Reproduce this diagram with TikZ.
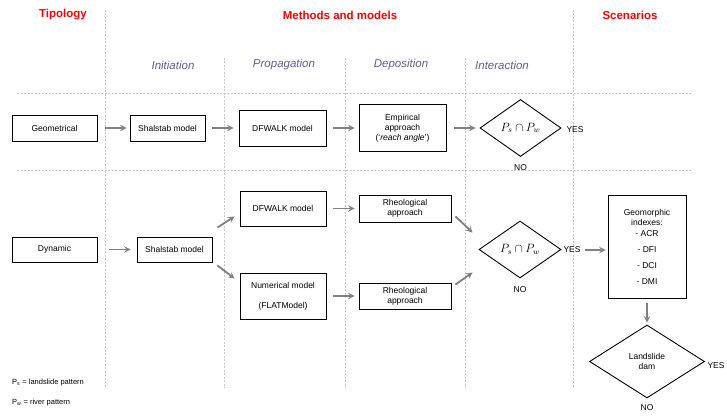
\documentclass[tikz,border=0pt]{standalone}
\usepackage{fontspec}
\setmainfont{Liberation Sans}
\usepackage{tikz}
\usetikzlibrary{shapes.geometric, arrows, positioning, calc}
\definecolor{rojotit}{HTML}{FF0000}
\definecolor{pizarra}{HTML}{5F5F96}
\definecolor{flecha}{HTML}{808080}
\definecolor{rejilla}{HTML}{C8C8C8}
\tikzset{
  caja/.style={rectangle, draw=black, line width=0.9pt, fill=white, text centered,
               font=\fontsize{8.5}{10}\selectfont, align=center, inner sep=2pt},
  rombo/.style={diamond, draw=black, line width=0.9pt, fill=white, text centered,
                font=\fontsize{8.5}{10}\selectfont, align=center, inner sep=0pt},
  titulo/.style={font=\fontsize{11.5}{13}\selectfont\bfseries, text=rojotit},
  fase/.style={font=\fontsize{11.5}{13}\selectfont\itshape, text=pizarra},
  etiq/.style={font=\fontsize{8.5}{10}\selectfont, inner sep=1pt},
  nota/.style={font=\fontsize{7.5}{9}\selectfont, anchor=west, inner sep=0pt},
  guia/.style={draw=rejilla, line width=0.5pt, dash pattern=on 2pt off 1.5pt},
  arrow/.style={line width=1.8pt,->,>=stealth,color=flecha}
}
\begin{document}
\begin{tikzpicture}[x=1pt, y=-1pt]
  \path[use as bounding box, fill=white] (0,0) rectangle (727,419);
  \draw [guia] (17,93) -- (692,93);
  \draw [guia] (17,170) -- (692,170);
  \draw [guia] (105,10) -- (105,388);
  \draw [guia] (573,10) -- (573,388);
  \foreach \xg in {224,345,465}
    \draw [guia] (\xg,58) -- (\xg,388);

  \node (tip) [titulo] at (63,15) {Tipology};
  \node (mym) [titulo] at (340,15) {Methods and models};
  \node (esc) [titulo] at (630,15) {Scenarios};
  \node (ini) [fase] at (173,65) {Initiation};
  \node (pro) [fase] at (284,65) {Propagation};
  \node (dep) [fase] at (401,65) {Deposition};
  \node (int) [fase] at (502,65) {Interaction};

  \node (geo) [caja, minimum width=85pt, minimum height=26pt] at (54.5,128) {Geometrical};
  \node (sh1) [caja, minimum width=75pt, minimum height=26pt] at (167.5,128) {Shalstab model};
  \node (dfw1) [caja, minimum width=87pt, minimum height=36pt] at (282.5,128) {DFWALK model};
  \node (emp) [caja, minimum width=87pt, minimum height=47pt] at (402.5,128) {Empirical\\approach\\(‘\textit{reach angle}’)};
  \node (d1) [rombo, minimum width=81pt, minimum height=57pt] at (520.5,128) {\fontsize{11.5}{13}\selectfont$P_s \cap P_w$};
  \node (yes1) [etiq] at (575,130) {YES};
  \node (no1) [etiq] at (520.5,168) {NO};

  \node (dyn) [caja, minimum width=85pt, minimum height=25pt] at (54.5,249.5) {Dynamic};
  \node (sh2) [caja, minimum width=75pt, minimum height=25pt] at (174.5,249.5) {Shalstab model};
  \node (dfw2) [caja, minimum width=86pt, minimum height=35pt] at (283,208.5) {DFWALK model};
  \node (num) [caja, minimum width=86pt, minimum height=46pt] at (283,296) {Numerical model\\[10pt](FLATModel)};
  \node (rh1) [caja, minimum width=92pt, minimum height=27pt] at (405,208.5) {Rheological\\approach};
  \node (rh2) [caja, minimum width=92pt, minimum height=26pt] at (405,296) {Rheological\\approach};
  \node (d2) [rombo, minimum width=82pt, minimum height=57pt] at (520,249.5) {\fontsize{11.5}{13}\selectfont$P_s \cap P_w$};
  \node (yes2) [etiq] at (572,250) {YES};
  \node (no2) [etiq] at (520,290) {NO};
  \node (geom) [caja, minimum width=78pt, minimum height=103pt] at (647,246.5) {Geomorphic\\indexes:\\[1pt]- ACR\\[6pt]- DFI\\[6pt]- DCI\\[6pt]- DMI};
  \node (d3) [rombo, minimum width=115pt, minimum height=73pt] at (647,361.5) {Landslide\\dam};
  \node (yes3) [etiq] at (716,366) {YES};
  \node (no3) [etiq] at (647,408) {NO};

  \node (ps) [nota] at (12,383) {P\textsubscript{s} = landslide pattern};
  \node (pw) [nota] at (12,403) {P\textsubscript{w} = river pattern};

  \draw [arrow, shorten <=8pt, shorten >=3pt] (geo.east) -- (sh1.west);
  \draw [arrow, shorten <=7pt, shorten >=5pt] (sh1.east) -- (dfw1.west);
  \draw [arrow, shorten <=7pt, shorten >=4pt] (dfw1.east) -- (emp.west);
  \draw [arrow, shorten <=8pt, shorten >=4pt] (emp.east) -- (d1.west);
  \draw [arrow, shorten <=12pt, shorten >=6pt] (dyn.east) -- (sh2.west);
  \draw [arrow] ([xshift=5pt, yshift=9pt]sh2.north east) -- ([xshift=-5pt, yshift=10pt]dfw2.south west);
  \draw [arrow] ([xshift=5pt, yshift=-3pt]sh2.south east) -- ([xshift=-5pt, yshift=-6pt]num.north west);
  \draw [arrow, shorten <=7pt, shorten >=4pt] (dfw2.east) -- (rh1.west);
  \draw [arrow, shorten <=7pt, shorten >=4pt] (num.east) -- (rh2.west);
  \draw [arrow] ([xshift=4pt, yshift=6pt]rh1.south east) -- ([xshift=-6pt, yshift=17pt]d2.west);
  \draw [arrow] ([xshift=4pt, yshift=-2pt]rh2.north east) -- ([xshift=-6pt, yshift=-23pt]d2.west);
  \draw [arrow, shorten <=3pt, shorten >=2pt] (yes2.east) -- (yes2.east -| geom.west);
  \draw [arrow, shorten <=5pt, shorten >=2pt] (geom.south) -- (d3.north);
\end{tikzpicture}
\end{document}
